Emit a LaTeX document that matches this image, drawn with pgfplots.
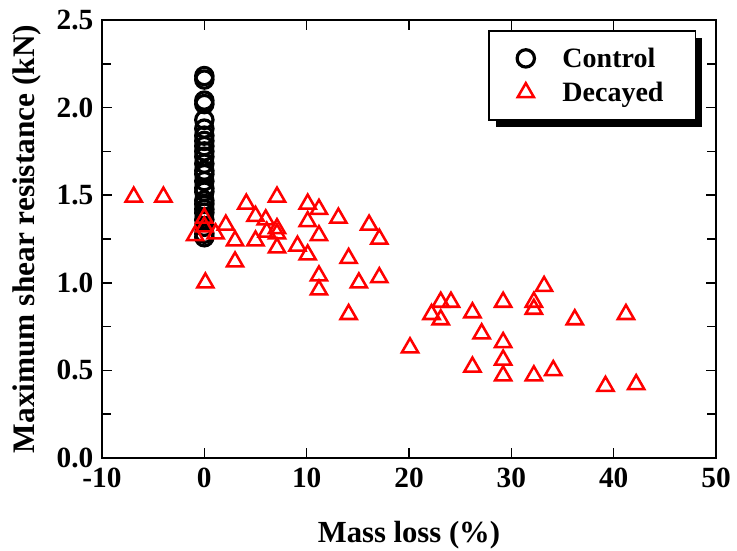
\documentclass[border=0pt]{standalone}
\usepackage{fontspec}
\setmainfont{Liberation Serif}
\usepackage{pgfplots}
\pgfplotsset{compat=1.18}
\usetikzlibrary{shadows}

\begin{document}
\begin{tikzpicture}
\useasboundingbox (-76.5pt,-69pt) rectangle (476.25pt,343.5pt);
\begin{axis}[
    scale only axis,
    width=460.5pt, height=328.5pt,
    xmin=-10, xmax=50,
    ymin=0, ymax=2.5,
    xtick={-10,0,...,50},
    ytick={0,0.5,...,2.5},
    minor y tick num=1,
    tick align=inside,
    major tick length=7.5pt,
    minor tick length=7pt,
    every tick/.style={black, line width=1.2pt},
    axis line style={line width=1.6pt},
    /pgf/number format/assume math mode=true,
    yticklabel style={xshift=-3pt, /pgf/number format/.cd, fixed, fixed zerofill, precision=1},
    xticklabel style={yshift=-4pt},
    tick label style={font=\bfseries\fontsize{22}{22}\selectfont},
    xlabel={Mass loss (\%)},
    ylabel={Maximum shear resistance (kN)},
    xlabel style={font=\bfseries\fontsize{23}{23}\selectfont, yshift=-18pt},
    ylabel style={font=\bfseries\fontsize{23.5}{23.5}\selectfont, yshift=5pt},
    legend style={at={(0.629,0.977)}, anchor=north west,
        draw=black, line width=1.4pt, fill=white,
        font=\bfseries\fontsize{21}{21}\selectfont,
        nodes={inner sep=3pt},
        inner xsep=21pt, inner ysep=9.5pt,
        row sep=3.5pt,
        /tikz/every odd column/.style={column sep=18pt},
        drop shadow={shadow xshift=5pt, shadow yshift=-5pt, fill=black, opacity=1}},
    legend cell align=left,
    legend image code/.code={\draw[#1] plot coordinates {(0pt,0pt)};},
]

% Control
\addplot[only marks, mark=o, mark size=6.5pt, black, line width=2.4pt]
    coordinates {
    (0, 2.18) (0, 2.16) (0, 2.04) (0, 2.02) (0, 1.93)
    (0, 1.88) (0, 1.84) (0, 1.81) (0, 1.78) (0, 1.75)
    (0, 1.72) (0, 1.68) (0, 1.64) (0, 1.62) (0, 1.58)
    (0, 1.54) (0, 1.52) (0, 1.47) (0, 1.45) (0, 1.42)
    (0, 1.40) (0, 1.36) (0, 1.32) (0, 1.28) (0, 1.26)
    };
\addlegendentry{Control}

% Decayed
\addplot[only marks, mark=triangle, mark size=7pt, red, line width=1.9pt]
    coordinates {
    (-6.9, 1.49) (-4.0, 1.49) (-0.9, 1.27) (0.0, 1.37) (0.0, 1.32)
    (0.1, 1.00) (1.1, 1.28) (2.1, 1.33) (3.0, 1.24) (3.0, 1.12)
    (4.1, 1.45) (5.0, 1.38) (5.0, 1.24) (6.0, 1.36) (6.1, 1.29)
    (7.1, 1.49) (7.1, 1.31) (7.1, 1.28) (7.1, 1.20) (9.1, 1.21)
    (10.1, 1.45) (10.1, 1.35) (10.1, 1.16) (11.2, 1.42) (11.2, 1.27)
    (11.2, 1.04) (11.2, 0.96) (13.1, 1.37) (14.1, 1.14) (14.1, 0.82)
    (15.1, 1.00) (16.1, 1.33) (17.1, 1.25) (17.1, 1.03)
    (20.1, 0.63) (22.2, 0.82) (23.1, 0.89) (23.1, 0.79) (24.1, 0.89)
    (26.2, 0.83) (26.2, 0.52) (27.1, 0.71) (29.2, 0.89) (29.2, 0.66)
    (29.2, 0.56) (29.2, 0.47) (32.2, 0.89) (32.2, 0.85) (32.2, 0.47)
    (33.2, 0.98) (34.1, 0.50) (36.2, 0.79) (39.2, 0.41) (41.2, 0.82)
    (42.2, 0.42)
    };
\addlegendentry{Decayed}
\end{axis}
\end{tikzpicture}
\end{document}
